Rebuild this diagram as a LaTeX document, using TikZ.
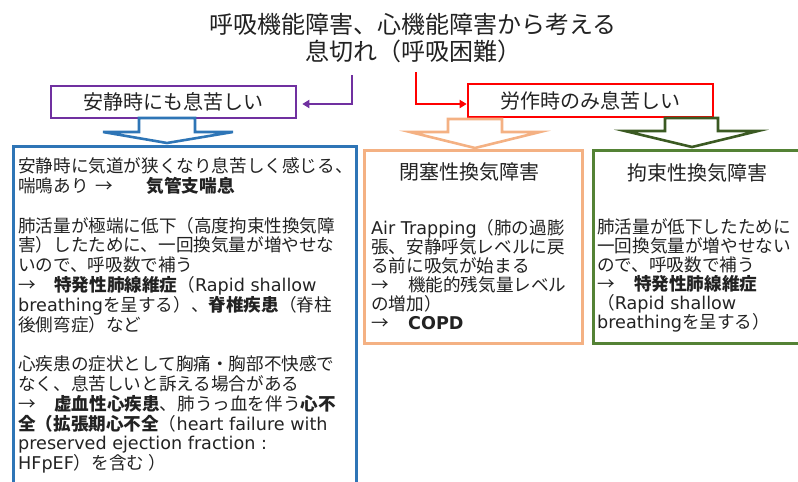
\documentclass[tikz,border=0pt]{standalone}
\usepackage{fontspec}
\setmainfont{Noto Sans CJK JP}
\newfontfamily\lat{DejaVu Sans}
\usetikzlibrary{arrows.meta}
\definecolor{txt}{HTML}{222222}
\definecolor{purp}{HTML}{7030A0}
\definecolor{redc}{HTML}{FF0000}
\definecolor{bluec}{HTML}{2E75B6}
\definecolor{orangec}{HTML}{F4B183}
\definecolor{greendark}{HTML}{3B5A22}
\definecolor{greenbox}{HTML}{548235}
\tikzset{
  titletext/.style={align=center, text=txt, inner sep=0pt, font=\fontsize{24}{27}\selectfont},
  lbl/.style={line width=2.6pt, text=txt, inner sep=0pt, minimum width=245pt, font=\fontsize{20}{22}\selectfont},
  conn/.style={line width=2.4pt, -{Triangle[length=7pt,width=8pt]}},
  barrow/.style={line width=2.6pt, fill=white, line join=miter},
  panel/.style={line width=2.8pt, anchor=north west, inner sep=0pt},
  ptitle/.style={text=txt, inner sep=0pt, font=\fontsize{20}{22}\selectfont},
  bodyA/.style={anchor=north west, align=left, text=txt, inner sep=0pt, font=\fontsize{17.6}{19.8}\selectfont},
  bodyB/.style={anchor=north west, align=left, text=txt, inner sep=0pt, font=\fontsize{17.6}{19}\selectfont}
}
\begin{document}
\begin{tikzpicture}[x=1pt,y=-1pt]
\useasboundingbox (0,0) rectangle (798,482);
\clip (0,0) rectangle (798,482);

% title
\node[titletext] (title) at (413,38) {呼吸機能障害、心機能障害から考える\\息切れ（呼吸困難）};

% category labels
\node[lbl, draw=purp, minimum height=32pt] (rest) at (173.5,102) {安静時にも息苦しい};
\node[lbl, draw=redc, minimum height=33pt] (exer) at (590.5,100.5) {労作時のみ息苦しい};

% connectors
\coordinate (p0) at (352,75);
\coordinate (r0) at (416,72);
\draw[conn, purp, shorten >=5pt] (p0) |- ([yshift=-2pt]rest.east);
\draw[conn, redc] (r0) |- ([yshift=-3.5pt]exer.west);

% block arrows
\draw[barrow, draw=bluec] (139,118) -- (195,118) -- (195,132) -- (233,132) -- (167,143) -- (103,132) -- (139,132) -- cycle;
\draw[barrow, draw=orangec] (448,119) -- (502,119) -- (502,132) -- (540,132) -- (475,148) -- (410,132) -- (448,132) -- cycle;
\draw[barrow, draw=greendark] (665,118) -- (718,118) -- (718,131) -- (758,131) -- (692,147) -- (625,131) -- (665,131) -- cycle;

% panels
\node[panel, draw=bluec, minimum width=343pt, minimum height=360pt] (bluebox) at (12,145) {};
\node[panel, draw=orangec, minimum width=218pt, minimum height=193pt] (orangebox) at (363,149) {};
\node[panel, draw=greenbox, minimum width=220pt, minimum height=193pt] (greenbox) at (592,149) {};

% panel titles
\node[ptitle] (otitle) at (469,172) {閉塞性換気障害};
\node[ptitle] (gtitle) at (697.5,173) {拘束性換気障害};

% panel texts
\node[bodyA] (btext) at (18,157.5) {%
安静時に気道が狭くなり息苦しく感じる、\\
喘鳴あり\hspace{0.4em}→\hspace{1.9em}\textbf{気管支喘息}\\[19.8pt]
肺活量が極端に低下（高度拘束性換気障\\
害）したために、一回換気量が増やせな\\
いので、呼吸数で補う\\
→\hspace{1.05em}\textbf{特発性肺線維症}（{\lat Rapid shallow}\\
{\lat breathing}を呈する）、\textbf{脊椎疾患}（脊柱\\
後側弯症）など\\[19.8pt]
心疾患の症状として胸痛・胸部不快感で\\
なく、息苦しいと訴える場合がある\\
→\hspace{1.05em}\textbf{虚血性心疾患}、肺うっ血を伴う\textbf{心不}\\
\textbf{全（拡張期心不全}（{\lat heart failure with}\\
{\lat preserved ejection fraction :}\\
{\lat HFpEF}）を含む ）};

\node[bodyB] (otext) at (371,219.5) {%
{\lat Air Trapping}（肺の過膨\\
張、安静呼気レベルに戻\\
る前に吸気が始まる\\
→\hspace{1.1em}機能的残気量レベル\\
の増加）\\
→\hspace{1.1em}{\lat\bfseries COPD}};

\node[bodyB] (gtext) at (597,218.5) {%
肺活量が低下したために\\
一回換気量が増やせない\\
ので、呼吸数で補う\\
→\hspace{1.1em}\textbf{特発性肺線維症}\\
（{\lat Rapid shallow}\\
{\lat breathing}を呈する）};
\end{tikzpicture}
\end{document}
